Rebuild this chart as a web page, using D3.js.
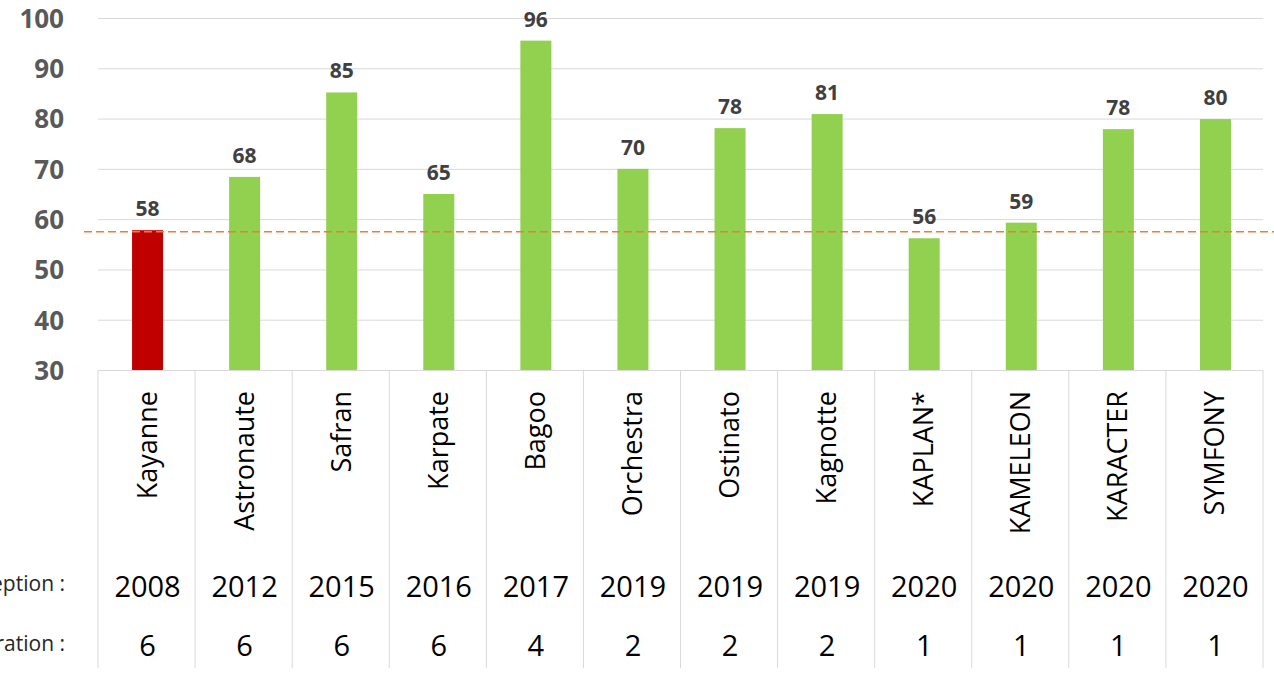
<!DOCTYPE html>
<html>
<head>
<meta charset="utf-8">
<script src="https://cdn.jsdelivr.net/npm/d3@7"></script>
<style>
  body { margin: 0; background: #fff; }
  svg { display: block; }
  text { font-family: "Open Sans", sans-serif; }
</style>
</head>
<body>
<div id="chart"></div>
<script>
// chart data
var names = ["Kayanne", "Astronaute", "Safran", "Karpate", "Bagoo", "Orchestra",
             "Ostinato", "Kagnotte", "KAPLAN*", "KAMELEON", "KARACTER", "SYMFONY"];
var scores = [57.8, 68.4, 85.2, 65, 95.5, 70, 78.1, 80.9, 56.2, 59.3, 77.9, 79.9];
var years = [2008, 2012, 2015, 2016, 2017, 2019, 2019, 2019, 2020, 2020, 2020, 2020];
var generations = [6, 6, 6, 6, 4, 2, 2, 2, 1, 1, 1, 1];
var yTicks = [30, 40, 50, 60, 70, 80, 90, 100];
var rowLabels = ["Année de conception :", "Génération :"];
var reference = 57.5;

var width = 1274, height = 675;
var plotLeft = 98, plotRight = 1263, plotTop = 18, axisY = 370, tableBottom = 668;
var barW = 31;

var svg = d3.select("#chart").append("svg")
    .attr("width", width)
    .attr("height", height);

var x = d3.scaleBand().domain(names).range([plotLeft, plotRight]).padding(0);
var y = d3.scaleLinear().domain([30, 100]).range([axisY, plotTop]);
var cx = function(d) { return x(d) + x.bandwidth() / 2 + 1; };

// gridlines
svg.append("g").selectAll("line")
    .data(yTicks.slice(1))
    .join("line")
    .attr("x1", plotLeft).attr("x2", plotRight)
    .attr("y1", function(d) { return y(d) + 0.5; })
    .attr("y2", function(d) { return y(d) + 0.5; })
    .attr("stroke", "#d9d9d9").attr("stroke-width", 1);

// y axis labels
var yAxis = d3.axisLeft(y).tickValues(yTicks).tickSize(0).tickPadding(0);
var ya = svg.append("g").attr("transform", "translate(64,0)").call(yAxis);
ya.select(".domain").remove();
ya.selectAll("text")
    .attr("font-family", "Open Sans, sans-serif")
    .attr("font-size", 26)
    .attr("font-weight", "bold")
    .attr("fill", "#595959")
    .attr("dy", "0.36em");

// bars
svg.append("g").selectAll("rect")
    .data(names)
    .join("rect")
    .attr("x", function(d) { return cx(d) - barW / 2; })
    .attr("width", barW)
    .attr("y", function(d, i) { return y(scores[i]); })
    .attr("height", function(d, i) { return y(30) - y(scores[i]); })
    .attr("fill", function(d, i) { return i === 0 ? "#C00000" : "#92D050"; });

// value labels
svg.append("g").selectAll("text")
    .data(names)
    .join("text")
    .attr("x", function(d) { return cx(d); })
    .attr("y", function(d, i) { return y(scores[i]) - 14; })
    .attr("text-anchor", "middle")
    .attr("font-size", 21)
    .attr("font-weight", "bold")
    .attr("fill", "#404040")
    .text(function(d, i) { return d3.format(".0f")(scores[i]); });

// reference line
svg.append("line")
    .attr("x1", 84).attr("x2", width)
    .attr("y1", y(reference)).attr("y2", y(reference))
    .attr("stroke", "#ED7D31").attr("stroke-width", 1.5)
    .attr("stroke-dasharray", "8,4");

// table below the axis
var table = svg.append("g");
table.append("line")
    .attr("x1", plotLeft).attr("x2", plotRight)
    .attr("y1", axisY + 0.5).attr("y2", axisY + 0.5)
    .attr("stroke", "#d9d9d9");
table.selectAll("line.sep")
    .data(names.concat(["end"]))
    .join("line")
    .attr("class", "sep")
    .attr("x1", function(d, i) { return i < names.length ? x(d) : plotRight; })
    .attr("x2", function(d, i) { return i < names.length ? x(d) : plotRight; })
    .attr("y1", axisY).attr("y2", tableBottom)
    .attr("stroke", "#d9d9d9");

// rotated names
table.selectAll("text.name")
    .data(names)
    .join("text")
    .attr("class", "name")
    .attr("transform", function(d) {
        return "translate(" + (cx(d) + 9) + "," + (axisY + 21) + ") rotate(-90)";
    })
    .attr("text-anchor", "end")
    .attr("font-size", 27)
    .attr("fill", "#000")
    .text(function(d) { return d; });

// years row
table.selectAll("text.year")
    .data(names)
    .join("text")
    .attr("class", "year")
    .attr("x", function(d) { return cx(d); })
    .attr("y", 597)
    .attr("text-anchor", "middle")
    .attr("font-size", 29)
    .attr("fill", "#000")
    .text(function(d, i) { return years[i]; });

// generation row
table.selectAll("text.gen")
    .data(names)
    .join("text")
    .attr("class", "gen")
    .attr("x", function(d) { return cx(d); })
    .attr("y", 656)
    .attr("text-anchor", "middle")
    .attr("font-size", 29)
    .attr("fill", "#000")
    .text(function(d, i) { return generations[i]; });

// row headers (cut by the left edge, as in the source)
table.selectAll("text.row")
    .data(rowLabels)
    .join("text")
    .attr("class", "row")
    .attr("x", 65)
    .attr("y", function(d, i) { return i === 0 ? 591 : 651; })
    .attr("text-anchor", "end")
    .attr("font-size", 21)
    .attr("fill", "#262626")
    .text(function(d) { return d; });
</script>
</body>
</html>
